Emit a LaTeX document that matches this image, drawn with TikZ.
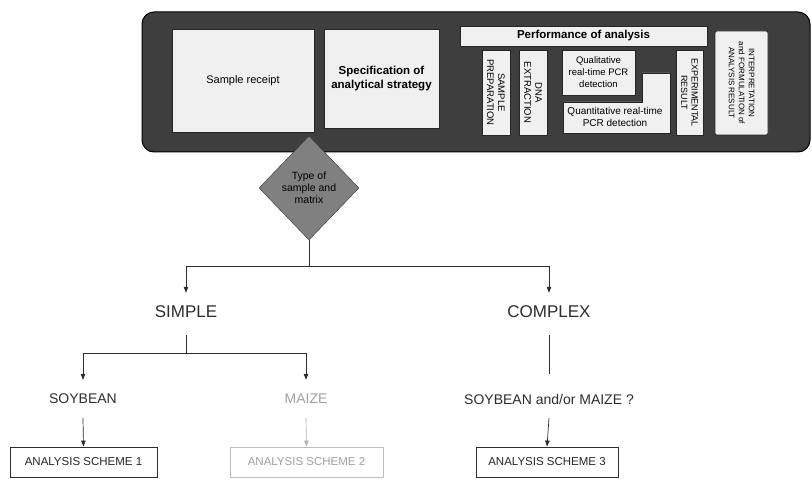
\documentclass[tikz,border=0pt]{standalone}
\usepackage{fontspec}
\setmainfont{Liberation Sans}
\usetikzlibrary{arrows.meta,positioning,shapes.geometric,calc}
\definecolor{Panel}{RGB}{62,62,62}
\definecolor{Card}{RGB}{240,240,240}
\definecolor{Rhomb}{RGB}{128,128,128}
\definecolor{Ink}{RGB}{45,45,45}
\definecolor{Faded}{RGB}{160,160,160}

\begin{document}
\begin{tikzpicture}[x=1pt,y=-1pt,
  card/.style={draw=black!85,fill=Card,line width=0.7pt,inner sep=1pt,align=center},
  strip/.style={card,rotate=-90,font=\fontsize{9.5}{11}\selectfont},
  level/.style={text=Ink,inner sep=0pt,minimum height=38pt,font=\fontsize{17}{20}\selectfont},
  crop/.style={text=Ink,inner sep=0pt,minimum height=38pt,font=\fontsize{14}{17}\selectfont},
  scheme/.style={draw=Ink,line width=0.8pt,fill=white,minimum height=30pt,text=black!85,font=\fontsize{11.5}{14}\selectfont},
  link/.style={draw=Ink,line width=0.7pt},
  arr/.style={link,-{Triangle[length=6pt,width=4.5pt]}}]
  \useasboundingbox (0,0) rectangle (812,494);

  % dark frame with the workflow
  \node[draw=black,fill=Panel,line width=1pt,rounded corners=12pt,minimum width=668pt,minimum height=140pt] (frame) at (476,82) {};
  \node[card,minimum width=142pt,minimum height=103pt,font=\fontsize{11}{13}\selectfont] (receipt) at (243,80.5) {Sample receipt};
  \node[card,minimum width=115pt,minimum height=99pt,font=\bfseries\fontsize{11.5}{14}\selectfont] (strategy) at (381.5,78.5) {Specification of\\analytical strategy};
  \node[card,minimum width=247pt,minimum height=20pt,font=\bfseries\fontsize{11.5}{14}\selectfont] (perform) at (583.5,36) {Performance of analysis};
  \node[strip,minimum width=85pt,minimum height=28pt] (prep) at (496,92.5) {SAMPLE\\PREPARATION};
  \node[strip,minimum width=85pt,minimum height=28pt] (dna) at (533,92.5) {DNA\\EXTRACTION};
  \node[card,minimum width=73pt,minimum height=45pt,font=\fontsize{9.5}{12}\selectfont] (quali) at (598.5,72.5) {Qualitative\\real-time PCR\\detection};
  \draw[draw=black!85,fill=Card,line width=0.7pt] (563,102) -- (642,102) -- (642,73) -- (670,73) -- (670,133) -- (563,133) -- cycle;
  \node[align=center,font=\fontsize{10}{12}\selectfont] (quanti) at (615,117) {Quantitative real-time\\PCR detection};
  \node[strip,minimum width=85pt,minimum height=27pt,font=\fontsize{9}{10.5}\selectfont] (result) at (689.5,92.5) {EXPERIMENTAL\\RESULT};
  \node[strip,rounded corners=2pt,minimum width=104pt,minimum height=53pt,font=\fontsize{8}{10}\selectfont] (interp) at (741.5,83) {INTERPRETATION\\and FORMULATION of\\ANALYSIS RESULT};

  % decision
  \node[diamond,draw=black!80,fill=Rhomb,inner sep=0pt,minimum width=100pt,minimum height=104pt,align=center,text=black,font=\fontsize{10.5}{12}\selectfont] (sampletype) at (309,188) {Type of\\sample and\\matrix};

  \node[level] (simple) at (186,312) {SIMPLE};
  \node[level] (complex) at (549,312) {COMPLEX};
  \node[crop] (soy) at (83,399) {SOYBEAN};
  \node[crop,text=Faded] (maize) at (306,399) {MAIZE};
  \node[crop] (query) at (549,399) {SOYBEAN and/or MAIZE ?};
  \node[scheme,minimum width=147pt] (s1) at (83.5,462) {ANALYSIS SCHEME 1};
  \node[scheme,minimum width=153pt,draw=Faded!70,text=Faded] (s2) at (306.5,462) {ANALYSIS SCHEME 2};
  \node[scheme,minimum width=142pt] (s3) at (547,462) {ANALYSIS SCHEME 3};

  \coordinate (split) at ($(sampletype.south)+(0,26)$);
  \coordinate (fork) at ($(simple.south)+(0,22)$);
  \draw[link] (sampletype.south) -- (split);
  \draw[arr] (split) -| (simple.north);
  \draw[arr] (split) -| (complex.north);
  \draw[link,shorten <=4pt] (simple.south) -- (fork);
  \draw[arr] (fork) -| (soy.north);
  \draw[arr] (fork) -| (maize.north);
  \draw[arr] (soy.south) -- (s1.north);
  \draw[arr,draw=Faded!80] (maize.south) -- (s2.north);
  \draw[link,shorten <=4pt,shorten >=6pt] (complex.south) -- (query.north);
  \draw[arr] (query.south) -- (s3.north);
\end{tikzpicture}
\end{document}
